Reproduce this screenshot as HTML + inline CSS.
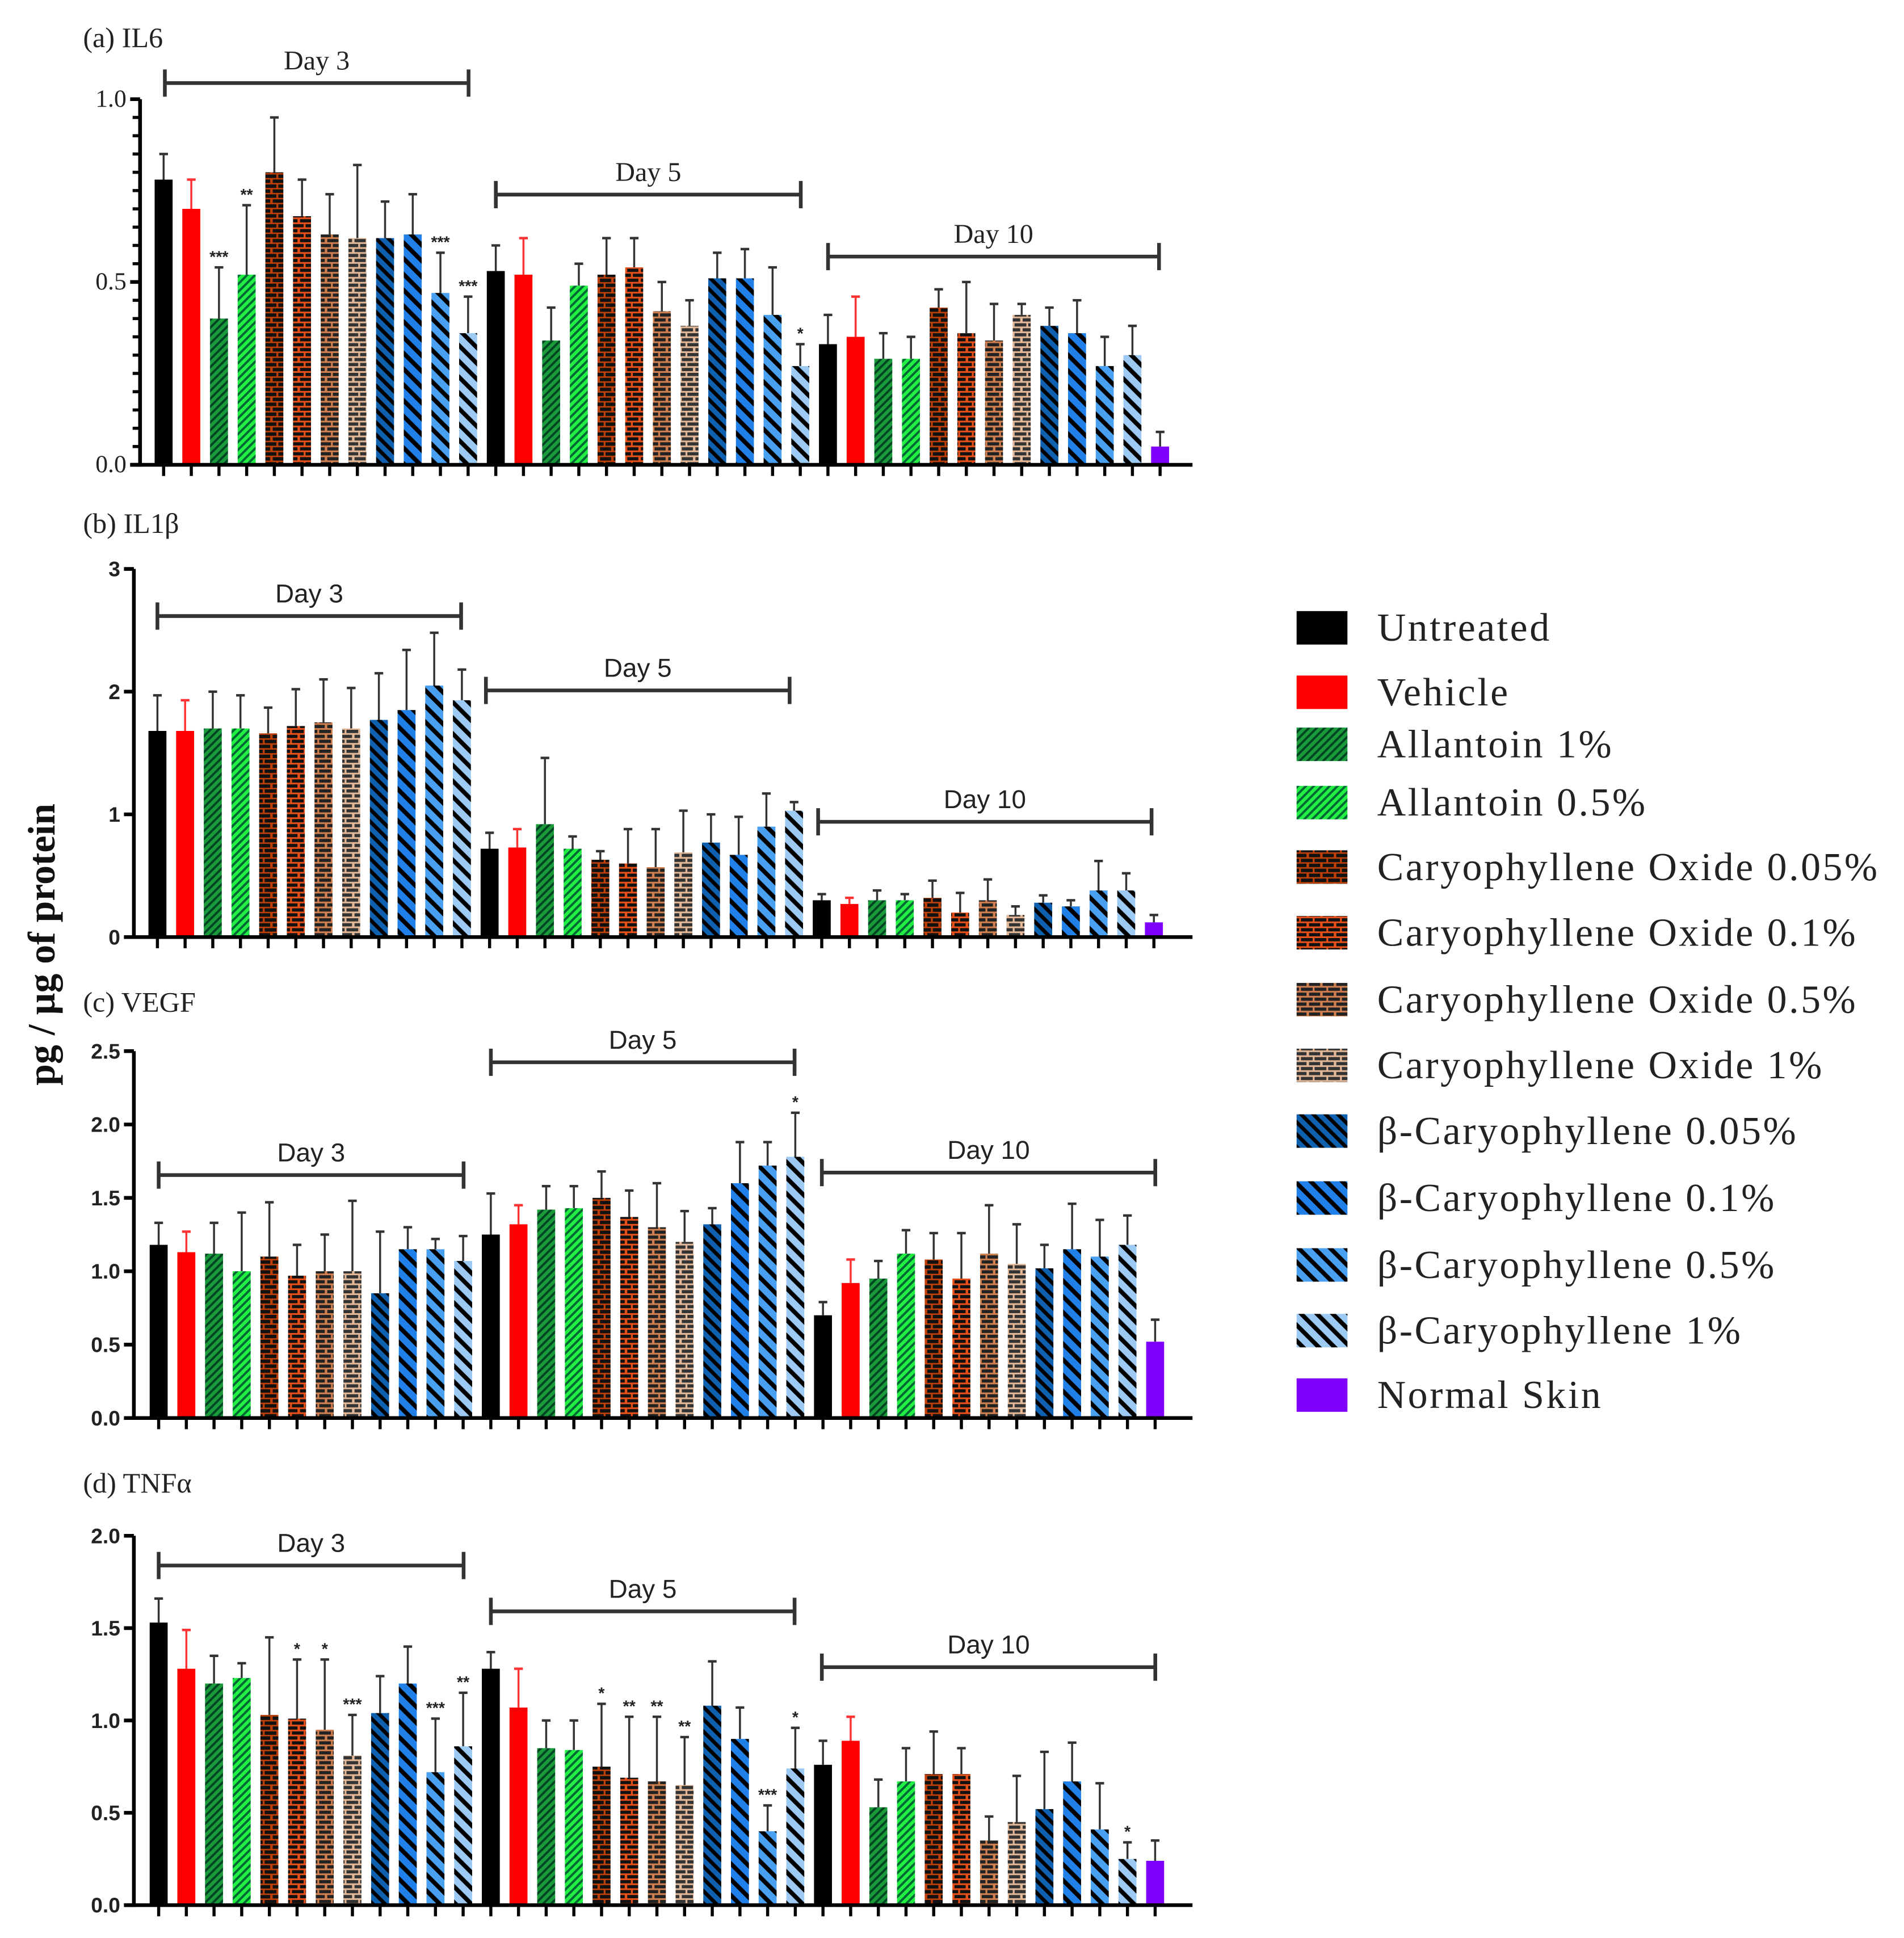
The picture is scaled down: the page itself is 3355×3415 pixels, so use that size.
<!DOCTYPE html>
<html><head><meta charset="utf-8"><style>
html,body{margin:0;padding:0;background:#fff}
svg{display:block}
</style></head><body>
<svg id="fig" width="3355" height="3415" viewBox="0 0 1536 1563.5" preserveAspectRatio="none" xmlns="http://www.w3.org/2000/svg">
<defs>
<pattern id="p2" patternUnits="userSpaceOnUse" width="4.5" height="4.5" patternTransform="rotate(45)"><rect width="4.5" height="4.5" fill="#1a9a3a"/><rect width="1.8" height="4.5" fill="#042"/></pattern>
<pattern id="p3" patternUnits="userSpaceOnUse" width="4.5" height="4.5" patternTransform="rotate(45)"><rect width="4.5" height="4.5" fill="#22ee44"/><rect width="1.8" height="4.5" fill="#063"/></pattern>
<pattern id="p4" patternUnits="userSpaceOnUse" width="11" height="8"><rect width="11" height="8" fill="#c0400a"/><rect x="0" y="0.8" width="9" height="2.8" fill="#111"/><rect x="4.5" y="4.8" width="6.5" height="2.8" fill="#111"/><rect x="0" y="4.8" width="3" height="2.8" fill="#111"/></pattern>
<pattern id="p5" patternUnits="userSpaceOnUse" width="11" height="8"><rect width="11" height="8" fill="#e8501a"/><rect x="0" y="0.8" width="9" height="2.6" fill="#111"/><rect x="4.5" y="4.8" width="6.5" height="2.6" fill="#111"/><rect x="0" y="4.8" width="3" height="2.6" fill="#111"/></pattern>
<pattern id="p6" patternUnits="userSpaceOnUse" width="11" height="8"><rect width="11" height="8" fill="#d08050"/><rect x="0" y="0.8" width="9" height="2.6" fill="#222"/><rect x="4.5" y="4.8" width="6.5" height="2.6" fill="#222"/><rect x="0" y="4.8" width="3" height="2.6" fill="#222"/></pattern>
<pattern id="p7" patternUnits="userSpaceOnUse" width="11" height="8"><rect width="11" height="8" fill="#e2b898"/><rect x="0" y="0.8" width="9" height="2.6" fill="#333"/><rect x="4.5" y="4.8" width="6.5" height="2.6" fill="#333"/><rect x="0" y="4.8" width="3" height="2.6" fill="#333"/></pattern>
<pattern id="p8" patternUnits="userSpaceOnUse" width="7" height="7" patternTransform="rotate(-45)"><rect width="7" height="7" fill="#1060b0"/><rect width="3" height="7" fill="#000"/></pattern>
<pattern id="p9" patternUnits="userSpaceOnUse" width="9" height="9" patternTransform="rotate(-45)"><rect width="9" height="9" fill="#2080e8"/><rect width="3.5" height="9" fill="#000"/></pattern>
<pattern id="p10" patternUnits="userSpaceOnUse" width="9" height="9" patternTransform="rotate(-45)"><rect width="9" height="9" fill="#4aa0f0"/><rect width="3.5" height="9" fill="#000"/></pattern>
<pattern id="p11" patternUnits="userSpaceOnUse" width="9" height="9" patternTransform="rotate(-45)"><rect width="9" height="9" fill="#9ccaf2"/><rect width="3.5" height="9" fill="#000"/></pattern>
</defs>
<g id="root"></g>
</svg>
<script>
// Series/legend data
const groups = ["Untreated","Vehicle","Allantoin 1%","Allantoin 0.5%","Caryophyllene Oxide 0.05%","Caryophyllene Oxide 0.1%","Caryophyllene Oxide 0.5%","Caryophyllene Oxide 1%","β-Caryophyllene  0.05%","β-Caryophyllene  0.1%","β-Caryophyllene  0.5%","β-Caryophyllene  1%","Normal Skin"];
const dayLabels = ["Day 3","Day 5","Day 10"];
// IL6
const il6Mean = [0.78,0.70,0.40,0.52,0.80,0.68,0.63,0.62,0.62,0.63,0.47,0.36, 0.53,0.52,0.34,0.49,0.52,0.54,0.42,0.38,0.51,0.51,0.41,0.27, 0.33,0.35,0.29,0.29,0.43,0.36,0.34,0.41,0.38,0.36,0.27,0.30,0.05];
const il6Top  = [0.85,0.78,0.54,0.71,0.95,0.78,0.74,0.82,0.72,0.74,0.58,0.46, 0.60,0.62,0.43,0.55,0.62,0.62,0.50,0.45,0.58,0.59,0.54,0.33, 0.41,0.46,0.36,0.35,0.48,0.50,0.44,0.44,0.43,0.45,0.35,0.38,0.09];
const il6Sig  = ["","","***","**","","","","","","","***","***", "","","","","","","","","","","","*", "","","","","","","","","","","","",""];
// IL1b
const il1Mean = [1.68,1.68,1.70,1.70,1.66,1.72,1.75,1.70,1.77,1.85,2.05,1.93, 0.72,0.73,0.92,0.72,0.63,0.60,0.57,0.69,0.77,0.67,0.90,1.03, 0.30,0.27,0.30,0.30,0.32,0.20,0.30,0.18,0.28,0.25,0.38,0.38,0.12];
const il1Top  = [1.97,1.93,2.00,1.97,1.87,2.02,2.10,2.03,2.15,2.34,2.48,2.18, 0.85,0.88,1.46,0.82,0.70,0.88,0.88,1.03,1.00,0.98,1.17,1.10, 0.35,0.32,0.38,0.35,0.46,0.36,0.47,0.25,0.34,0.30,0.62,0.52,0.18];
const il1Sig  = [];
// VEGF
const vegfMean = [1.18,1.13,1.12,1.00,1.10,0.97,1.00,1.00,0.85,1.15,1.15,1.07, 1.25,1.32,1.42,1.43,1.50,1.37,1.30,1.20,1.32,1.60,1.72,1.78, 0.70,0.92,0.95,1.12,1.08,0.95,1.12,1.05,1.02,1.15,1.10,1.18,0.52];
const vegfTop  = [1.33,1.27,1.33,1.40,1.47,1.18,1.25,1.48,1.27,1.30,1.22,1.24, 1.53,1.45,1.58,1.58,1.68,1.55,1.60,1.41,1.43,1.88,1.88,2.08, 0.79,1.08,1.07,1.28,1.26,1.26,1.45,1.32,1.18,1.46,1.35,1.38,0.67];
const vegfSig  = ["","","","","","","","","","","","", "","","","","","","","","","","","*"];
// TNFa
const tnfMean = [1.53,1.28,1.20,1.23,1.03,1.01,0.95,0.81,1.04,1.20,0.72,0.86, 1.28,1.07,0.85,0.84,0.75,0.69,0.67,0.65,1.08,0.90,0.40,0.74, 0.76,0.89,0.53,0.67,0.71,0.71,0.35,0.45,0.52,0.67,0.41,0.25,0.24];
const tnfTop  = [1.66,1.49,1.35,1.31,1.45,1.33,1.33,1.03,1.24,1.40,1.01,1.15, 1.37,1.28,1.00,1.00,1.09,1.02,1.02,0.91,1.32,1.07,0.54,0.96, 0.89,1.02,0.68,0.85,0.94,0.85,0.48,0.70,0.83,0.88,0.66,0.34,0.35];
const tnfSig  = ["","","","","","*","*","***","","","***","**", "","","","","*","**","**","**","","","***","*", "","","","","","","","","","","","*",""];
const ticksA = ["0.0","0.5","1.0"], ticksB = ["0","1","2","3"], ticksC = ["0.0","0.5","1.0","1.5","2.0","2.5"], ticksD = ["0.0","0.5","1.0","1.5","2.0"];

const fills = ["#000","#f00","url(#p2)","url(#p3)","url(#p4)","url(#p5)","url(#p6)","url(#p7)","url(#p8)","url(#p9)","url(#p10)","url(#p11)","#8000ff"];
const NS = "http://www.w3.org/2000/svg";
const root = document.getElementById('root');
function mk(tag, attrs, parent, txt){const e=document.createElementNS(NS,tag);for(const k in attrs)e.setAttribute(k,attrs[k]);if(txt!==undefined)e.textContent=txt;(parent||root).appendChild(e);return e;}

const panels = [
 {key:'il6',title:'(a) IL6',mean:il6Mean,top:il6Top,sig:il6Sig,ticks:ticksA,max:1.0,ax:113,y0:375,y1:80,x0:132,minor:20,serif:true,titleY:38,
  br:[[133,378,67],[400,646,157],[668,935,207]]},
 {key:'il1b',title:'(b) IL1β',mean:il1Mean,top:il1Top,sig:il1Sig,ticks:ticksB,max:3,ax:108,y0:756,y1:459,x0:127,minor:0,serif:false,titleY:430,
  br:[[127,372,497],[392,637,557],[660,929,663]]},
 {key:'vegf',title:'(c) VEGF',mean:vegfMean,top:vegfTop,sig:vegfSig,ticks:ticksC,max:2.5,ax:108,y0:1144,y1:848,x0:128,minor:0,serif:false,titleY:816,
  br:[[128,374,948],[396,641,857],[663,932,946]]},
 {key:'tnfa',title:'(d) TNFα',mean:tnfMean,top:tnfTop,sig:tnfSig,ticks:ticksD,max:2.0,ax:108,y0:1537,y1:1239,x0:128,minor:0,serif:false,titleY:1204,
  br:[[128,374,1263],[396,641,1300],[663,932,1345]]}
];
const serif='"Liberation Serif", serif', sans='"Liberation Sans", sans-serif';
const step = 22.33, bw = 14.5;

panels.forEach(p=>{
  const g = mk('g',{});
  
  
  const yS = v => p.y0 - (v/p.max)*(p.y0-p.y1);
  const xS = i => p.x0 + i*step;
  const t = mk('text',{x:67,y:p.titleY,'font-family':serif,'font-size':23,fill:'#222'},g,p.title);
  
  
  p.mean.forEach((m,i)=>{
    const gi = i<36 ? i%12 : 12;
    const x = xS(i);
    const col = gi===1 ? '#f33' : '#333';
    const eb = mk('g',{},g);
    
    
    mk('line',{x1:x,x2:x,y1:yS(m),y2:yS(p.top[i]),stroke:col,'stroke-width':1.6},eb);
    mk('line',{x1:x-3.5,x2:x+3.5,y1:yS(p.top[i]),y2:yS(p.top[i]),stroke:col,'stroke-width':2},eb);
    const r = mk('rect',{x:x-bw/2,y:yS(m),width:bw,height:p.y0-yS(m),fill:fills[gi]},g);
    
    
    if(p.sig[i]){
      const s = mk('text',{x:x,y:yS(p.top[i])-4,'text-anchor':'middle','font-family':sans,'font-size':13,'font-weight':'bold',fill:'#222'},g,p.sig[i]);
      
      
    }
    mk('line',{x1:x,x2:x,y1:p.y0,y2:p.y0+9,stroke:'#000','stroke-width':2.5},g);
  });
  const xa = mk('line',{x1:p.ax-8,x2:962,y1:p.y0,y2:p.y0,stroke:'#000','stroke-width':3},g);
  
  
  const ya = mk('line',{x1:p.ax,x2:p.ax,y1:p.y1,y2:p.y0+1.5,stroke:'#000','stroke-width':3},g);
  
  
  if(p.minor){for(let k=1;k<p.minor;k++){const yy=p.y0-k*(p.y0-p.y1)/p.minor;mk('line',{x1:p.ax-6,x2:p.ax,y1:yy,y2:yy,stroke:'#000','stroke-width':2.5},g);}}
  p.ticks.forEach(tl=>{
    const v=parseFloat(tl), yy=yS(v);
    mk('line',{x1:p.ax-8,x2:p.ax,y1:yy,y2:yy,stroke:'#000','stroke-width':3},g);
    const tt = mk('text',{x:p.ax-11,y:yy+6,'text-anchor':'end','font-family':p.serif?serif:sans,'font-size':p.serif?20:17,'font-weight':p.serif?'normal':'bold',fill:'#222'},g,tl);
    
    
  });
  p.br.forEach((b,k)=>{
    const bg = mk('g',{},g);
    
    
    mk('line',{x1:b[0],x2:b[1],y1:b[2],y2:b[2],stroke:'#333','stroke-width':3},bg);
    mk('line',{x1:b[0],x2:b[0],y1:b[2]-11,y2:b[2]+11,stroke:'#333','stroke-width':3},bg);
    mk('line',{x1:b[1],x2:b[1],y1:b[2]-11,y2:b[2]+11,stroke:'#333','stroke-width':3},bg);
    mk('text',{x:(b[0]+b[1])/2,y:b[2]-11,'text-anchor':'middle','font-family':p.serif?serif:sans,'font-size':p.serif?22:21,fill:'#222'},bg,dayLabels[k]);
  });
});
const yt = mk('text',{x:0,y:0,transform:'translate(44,762) rotate(-90)','text-anchor':'middle','font-family':serif,'font-size':31,'font-weight':'bold',fill:'#111'},root,'pg / µg of protein');


const legY = [506,558,600,647,699,752,806,859,912,966,1020,1073,1125];
const lg = mk('g',{});


groups.forEach((n,i)=>{
  const e = mk('g',{},lg);
  
  
  mk('rect',{x:1046,y:legY[i]-13,width:41,height:27,fill:fills[i]},e);
  mk('text',{x:1111,y:legY[i]+11,'font-family':serif,'font-size':32,'letter-spacing':1.6,fill:'#222'},e,n);
});
</script>
</body></html>
